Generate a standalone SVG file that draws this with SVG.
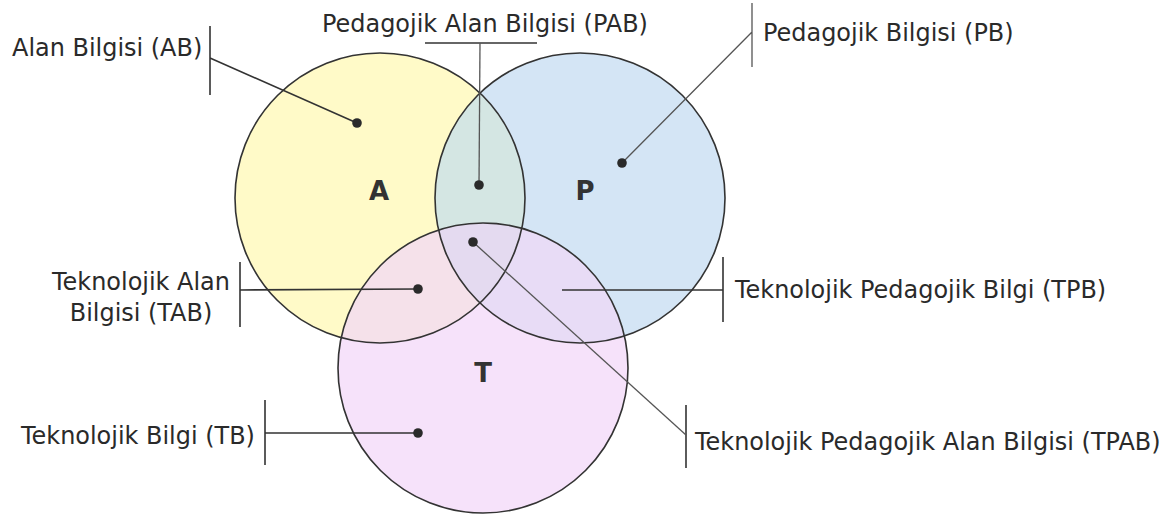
<svg xmlns="http://www.w3.org/2000/svg" width="1169" height="520" viewBox="0 0 1169 520">
<style>
.lbl{font-family:"DejaVu Sans","Liberation Sans",sans-serif;font-size:23.95px;fill:#2a2a2a}
.big{font-family:"DejaVu Sans","Liberation Sans",sans-serif;font-size:26px;font-weight:bold;fill:#333;text-anchor:middle}
.ln{stroke:#333;stroke-width:1.6;fill:none}
.lt{stroke:#555;stroke-width:1.3;fill:none}
.edge{fill:none;stroke:#333;stroke-width:1.6}
.dot{fill:#2a2a2a}
</style>
<defs>
<clipPath id="cA"><circle cx="380" cy="198" r="145"/></clipPath>
<clipPath id="cP"><circle cx="580" cy="198" r="145"/></clipPath>
<clipPath id="cT"><circle cx="483" cy="368" r="145"/></clipPath>
</defs>
<rect width="1169" height="520" fill="#fff"/>
<g id="circles">
<circle id="A-fill" cx="380" cy="198" r="145" fill="#fffac8"/>
<circle id="P-fill" cx="580" cy="198" r="145" fill="#d4e5f5"/>
<circle id="T-fill" cx="483" cy="368" r="145" fill="#f6e2fa"/>
<circle cx="580" cy="198" r="145" fill="#d4e6e3" clip-path="url(#cA)"/>
<circle cx="483" cy="368" r="145" fill="#f5e1ea" clip-path="url(#cA)"/>
<circle cx="483" cy="368" r="145" fill="#e8dcf6" clip-path="url(#cP)"/>
<g clip-path="url(#cA)"><circle cx="483" cy="368" r="145" fill="#e4daf0" clip-path="url(#cP)"/></g>
<circle class="edge" cx="380" cy="198" r="145"/>
<circle class="edge" cx="580" cy="198" r="145"/>
<circle class="edge" cx="483" cy="368" r="145"/>
</g>
<g id="node-A"><text class="big" x="379" y="200">A</text></g>
<g id="node-P"><text class="big" x="585" y="200">P</text></g>
<g id="node-T"><text class="big" x="483" y="382">T</text></g>
<g id="connectors">
<path class="ln" d="M210 26V95M210 58L357 123"/>
<path class="ln" d="M425 43H537"/>
<path class="lt" d="M480 43L479 185" stroke-width="2"/>
<path class="lt" d="M752 3V67M752 32L622 163"/>
<path class="ln" d="M240 262V327M240 290L418 289"/>
<path class="ln" d="M265 400V465M265 433H418"/>
<path class="ln" d="M723 257V322M562 290H723"/>
<path class="ln" d="M686 405V468"/>
<path class="lt" d="M473 242L686 435"/>
</g>
<g id="node-AB"><circle class="dot" cx="357" cy="123" r="4.8"/><text class="lbl" x="12" y="56">Alan Bilgisi (AB)</text></g>
<g id="node-PAB"><circle class="dot" cx="479" cy="185" r="4.8"/><text class="lbl" x="322" y="32">Pedagojik Alan Bilgisi (PAB)</text></g>
<g id="node-PB"><circle class="dot" cx="622" cy="163" r="4.8"/><text class="lbl" x="763" y="41">Pedagojik Bilgisi (PB)</text></g>
<g id="node-TAB"><circle class="dot" cx="418" cy="289" r="4.8"/><text class="lbl" text-anchor="middle"><tspan x="141" y="290">Teknolojik Alan</tspan><tspan x="141" y="321">Bilgisi (TAB)</tspan></text></g>
<g id="node-TB"><circle class="dot" cx="418" cy="433" r="4.8"/><text class="lbl" x="21" y="444">Teknolojik Bilgi (TB)</text></g>
<g id="node-TPB"><text class="lbl" x="735" y="298">Teknolojik Pedagojik Bilgi (TPB)</text></g>
<g id="node-TPAB"><circle class="dot" cx="473" cy="242" r="4.8"/><text class="lbl" x="695" y="450">Teknolojik Pedagojik Alan Bilgisi (TPAB)</text></g>
</svg>
